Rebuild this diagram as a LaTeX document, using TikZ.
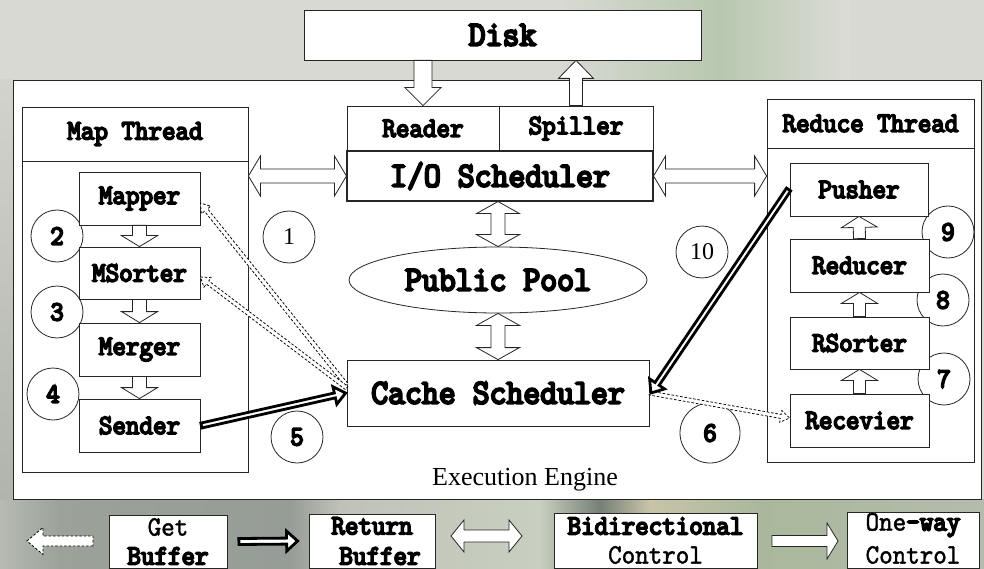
\documentclass[tikz,border=0pt]{standalone}
\usepackage{fontspec}
\setmainfont{Liberation Serif}
\newfontfamily\diagfont[Extension=.otf, FakeStretch=0.92, FakeBold=6]{lmmono10-regular}
\newfontfamily\diaglight[Extension=.otf, FakeStretch=0.92, FakeBold=1.5]{lmmono10-regular}
\usetikzlibrary{calc,shapes.geometric}

\newcommand\txtS{\diagfont\fontsize{28}{30}\selectfont}
\newcommand\txtB{\diagfont\fontsize{35}{37}\selectfont}
\newcommand\txtR{\diaglight\fontsize{28}{30}\selectfont}
\newcommand\txtN{\fontsize{24}{24}\selectfont}

% hollow block arrow: [opts]{from}{to}{shaft half width}{head half width}{head length}
\newcommand\blockarrow[6][]{%
  \draw[blk,#1] let \p1=(#2), \p2=(#3),
      \n1={atan2(\y2-\y1,\x2-\x1)}, \n2={veclen(\x2-\x1,\y2-\y1)} in
    [shift={(\p1)}, rotate=\n1]
    (0,-#4) -- ({\n2-#6},-#4) -- ({\n2-#6},-#5) -- (\n2,0)
    -- ({\n2-#6},#5) -- ({\n2-#6},#4) -- (0,#4) -- cycle;}
% hollow block arrow with a head at both ends
\newcommand\dblblock[6][]{%
  \draw[blk,#1] let \p1=(#2), \p2=(#3),
      \n1={atan2(\y2-\y1,\x2-\x1)}, \n2={veclen(\x2-\x1,\y2-\y1)} in
    [shift={(\p1)}, rotate=\n1]
    (0,0) -- (#6,-#5) -- (#6,-#4) -- ({\n2-#6},-#4) -- ({\n2-#6},-#5) -- (\n2,0)
    -- ({\n2-#6},#5) -- ({\n2-#6},#4) -- (#6,#4) -- (#6,#5) -- cycle;}

\tikzset{
  box/.style={draw=black!85, fill=white, line width=0.8pt, inner sep=0pt},
  circ/.style={draw=black!85, fill=white, circle, line width=0.8pt, minimum size=52pt, inner sep=0pt},
  blk/.style={draw=black!85, fill=white, line width=0.8pt, line join=miter},
  dsh/.style={draw=black, dash pattern=on 2.6pt off 1.8pt, line width=0.75pt},
  thk/.style={draw=black, line width=2.8pt, miter limit=3},
}

\begin{document}
\begin{tikzpicture}[x=1pt,y=-1pt]
\useasboundingbox (0,0) rectangle (984,569);

% textured backdrop, approximated with soft colour bands
\fill[color={rgb,255:red,216;green,217;blue,210}] (0,0) rectangle (984,569);
\shade[left color={rgb,255:red,216;green,217;blue,210}, right color={rgb,255:red,184;green,200;blue,176}] (560,0) rectangle (720,80);
\shade[left color={rgb,255:red,184;green,200;blue,176}, right color={rgb,255:red,220;green,220;blue,214}] (720,0) rectangle (850,80);
\shade[left color={rgb,255:red,182;green,186;blue,178}, right color={rgb,255:red,156;green,162;blue,154}] (0,499) rectangle (60,569);
\shade[left color={rgb,255:red,156;green,162;blue,154}, right color={rgb,255:red,150;green,156;blue,150}] (60,499) rectangle (290,569);
\shade[left color={rgb,255:red,150;green,156;blue,150}, right color={rgb,255:red,192;green,194;blue,184}] (290,499) rectangle (340,569);
\shade[left color={rgb,255:red,192;green,194;blue,184}, right color={rgb,255:red,200;green,207;blue,192}] (340,499) rectangle (540,569);
\shade[left color={rgb,255:red,200;green,207;blue,192}, right color={rgb,255:red,118;green,128;blue,118}] (540,499) rectangle (600,569);
\shade[left color={rgb,255:red,118;green,128;blue,118}, right color={rgb,255:red,201;green,196;blue,168}] (600,499) rectangle (650,569);
\shade[left color={rgb,255:red,201;green,196;blue,168}, right color={rgb,255:red,169;green,184;blue,156}] (650,499) rectangle (760,569);
\shade[left color={rgb,255:red,169;green,184;blue,156}, right color={rgb,255:red,180;green,188;blue,173}] (760,499) rectangle (984,569);
\shade[top color={rgb,255:red,210;green,211;blue,204}, bottom color={rgb,255:red,176;green,180;blue,172}] (0,80) rectangle (13,499);

% engine frame and the main blocks
\node[box, minimum width=968pt, minimum height=419pt] (exec) at (497,289.5) {};
\node[box, minimum width=397pt, minimum height=50pt] (disk) at (502.5,35) {\txtB Disk};

\node[box, minimum width=226pt, minimum height=365pt] (mapthread) at (135,289.5) {};
\node[box, minimum width=226pt, minimum height=54pt] (maptitle) at (135,134) {\txtS Map Thread};
\node[box, minimum width=207pt, minimum height=363pt] (redthread) at (870.5,280.5) {};
\node[box, minimum width=207pt, minimum height=49pt] (redtitle) at (870.5,123.5) {\txtS Reduce Thread};

\node[box, minimum width=152pt, minimum height=45pt] (reader) at (423,128.5) {\txtS Reader};
\node[box, minimum width=154pt, minimum height=45pt] (spiller) at (576,128.5) {\txtS Spiller};
\node[box, line width=1.1pt, minimum width=306pt, minimum height=50pt] (io) at (500,176) {\txtB I/O Scheduler};
\node[box, ellipse, minimum width=298pt, minimum height=66pt] (pool) at (498,280) {\txtB Public Pool};
\node[box, minimum width=302pt, minimum height=66pt] (cache) at (498,393) {\txtB Cache Scheduler};

\node (engine) at (525,480) {\fontsize{26}{26}\selectfont Execution Engine};

% step numbers
\node[circ] (n1) at (289,237) {\txtN 1};
\node[circ] (n2) at (57,236) {\txtS 2};
\node[circ] (n3) at (57,312) {\txtS 3};
\node[circ] (n4) at (53,394) {\txtS 4};
\node[circ] (n5) at (297,437) {\txtS 5};
\node[circ, minimum size=60pt] (n6) at (710,433) {\txtS 6};
\node[circ] (n7) at (944,379) {\txtS 7};
\node[circ] (n8) at (943,300) {\txtS 8};
\node[circ] (n9) at (948,232) {\txtS 9};
\node[circ] (n10) at (702,252) {\txtN 10};

% map side stages
\node[box, minimum width=121pt, minimum height=53pt] (mapper) at (139.5,198.5) {\txtS Mapper};
\node[box, minimum width=121pt, minimum height=52pt] (msorter) at (139.5,273) {\txtS MSorter};
\node[box, minimum width=121pt, minimum height=53pt] (merger) at (139.5,349.5) {\txtS Merger};
\node[box, minimum width=121pt, minimum height=53pt] (sender) at (139.5,425.5) {\txtS Sender};

% reduce side stages
\node[box, minimum width=138pt, minimum height=53pt] (pusher) at (859,189.5) {\txtS Pusher};
\node[box, minimum width=139pt, minimum height=53pt] (reducer) at (859.5,265.5) {\txtS Reducer};
\node[box, minimum width=139pt, minimum height=52pt] (rsorter) at (859.5,343) {\txtS RSorter};
\node[box, minimum width=139pt, minimum height=53pt] (recevier) at (859.5,420.5) {\txtS Recevier};

% control arrows
\blockarrow{disk.south -| reader.north}{reader.north}{9}{18}{18}
\blockarrow{spiller.north}{spiller.north |- disk.south}{6.5}{17.5}{18}
\dblblock{maptitle.east |- io.west}{io.west}{7}{20}{12}
\dblblock{io.east}{redtitle.west |- io.east}{7}{20}{12}
\dblblock{io.south -| pool.north}{pool.north}{7}{21.5}{12}
\dblblock{pool.south}{cache.north -| pool.south}{7}{21.5}{12}

\blockarrow{mapper.south}{msorter.north}{7}{18}{11}
\blockarrow{msorter.south}{merger.north}{7}{18}{11}
\blockarrow{merger.south}{sender.north}{7}{18}{11}
\blockarrow{recevier.north}{rsorter.south}{6}{18}{11}
\blockarrow{rsorter.north}{reducer.south}{6}{18}{11}
\blockarrow{reducer.north}{pusher.south}{6}{18}{11}

% buffer traffic
\blockarrow[dsh]{[yshift=8pt]cache.west}{[yshift=-4.5pt]mapper.east}{2}{6}{9}
\blockarrow[dsh]{[yshift=5pt]cache.west}{[yshift=-4pt]msorter.east}{2}{6}{9}
\blockarrow[dsh]{cache.east}{[yshift=2.5pt]recevier.west}{2}{6}{9}
\blockarrow[thk]{[xshift=1pt]sender.east}{[xshift=-1pt]cache.west}{2.5}{9}{11}
\blockarrow[thk]{[xshift=-1pt]pusher.west}{[xshift=1.5pt]cache.east}{2.5}{9}{11}

% legend
\node[box, minimum width=118pt, minimum height=53pt] (getbuf) at (168,541.5) {};
\node (getl1) at (168,527) {\txtR Get};
\node (getl2) at (168,556) {\txtS Buffer};
\node[box, minimum width=126pt, minimum height=54pt] (retbuf) at (372,541) {};
\node (retl1) at (372,526) {\txtS Return};
\node (retl2) at (380,556) {\txtS Buffer};
\node[box, minimum width=203pt, minimum height=55pt] (bidirbox) at (655.5,540.5) {};
\node (bidl1) at (655.5,526) {\txtS Bidirectional};
\node (bidl2) at (655.5,555) {\txtR Control};
\node[box, minimum width=132pt, minimum height=56pt] (onewaybox) at (913,540) {};
\node (onel1) at (913,525) {\txtR One\txtS -way};
\node (onel2) at (913,555) {\txtR Control};

\coordinate (gettail) at (93,541);
\coordinate (gettip) at (27,541);
\blockarrow[dsh, line width=0.8pt]{gettail}{gettip}{5}{13.5}{16}
\blockarrow[thk]{[xshift=11.5pt]getbuf.east}{[xshift=-11pt]retbuf.west}{3}{10}{11}
\coordinate (bidl) at (451,536);
\coordinate (bidr) at (522,536);
\dblblock{bidl}{bidr}{6}{16}{13}
\coordinate (onel) at (772,541);
\coordinate (oner) at (838,541);
\blockarrow{onel}{oner}{5.5}{18}{11}
\end{tikzpicture}
\end{document}
